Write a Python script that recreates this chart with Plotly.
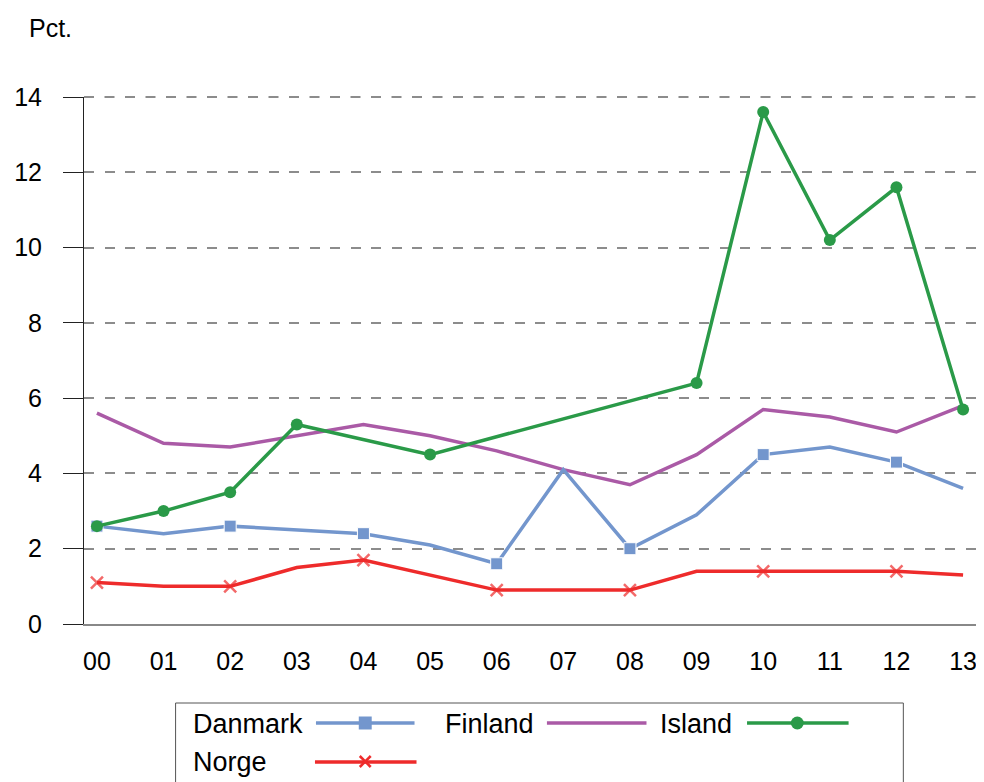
import plotly.graph_objects as go

years = ["00", "01", "02", "03", "04", "05", "06", "07", "08", "09", "10", "11", "12", "13"]
danmark = [2.6, 2.4, 2.6, 2.5, 2.4, 2.1, 1.6, 4.1, 2.0, 2.9, 4.5, 4.7, 4.3, 3.6]
finland = [5.6, 4.8, 4.7, 5.0, 5.3, 5.0, 4.6, 4.1, 3.7, 4.5, 5.7, 5.5, 5.1, 5.8]
island = [2.6, 3.0, 3.5, 5.3, None, 4.5, None, None, None, 6.4, 13.6, 10.2, 11.6, 5.7]
norge = [1.1, 1.0, 1.0, 1.5, 1.7, 1.3, 0.9, 0.9, 0.9, 1.4, 1.4, 1.4, 1.4, 1.3]
y_ticks = [0, 2, 4, 6, 8, 10, 12, 14]

C_DK = "#7396CD"
C_FI = "#AA5AA6"
C_IS = "#2A9A48"
C_NO = "#EE2B2B"
GRID = "#8c8c8c"
DASH = "10px,10.5px"
FONT = "Liberation Sans, Arial, sans-serif"

OFF = 8  # page body margin
W, H = 984 - OFF, 782 - OFF
L, R, T, B = 80 - OFF, 6, 97 - OFF, 782 - 624
PW, PH = W - L - R, H - T - B

def px(x):
    return (x - OFF - L) / PW

def py(y):
    return (H - B - (y - OFF)) / PH

xs = list(range(len(years)))
even = [12 if i % 2 == 0 else 0 for i in xs]

fig = go.Figure()
fig.add_trace(go.Scatter(x=xs, y=finland, mode="lines", name="Finland",
                         line=dict(color=C_FI, width=3.5)))
fig.add_trace(go.Scatter(x=xs, y=danmark, mode="lines+markers", name="Danmark",
                         line=dict(color=C_DK, width=3.5),
                         marker=dict(symbol="square", size=even, color=C_DK, opacity=1)))
fig.add_trace(go.Scatter(x=xs, y=norge, mode="lines+markers", name="Norge",
                         line=dict(color=C_NO, width=3.5),
                         marker=dict(symbol="x-thin", size=even,
                                     line=dict(color=C_NO, width=2.5), color=C_NO)))
fig.add_trace(go.Scatter(x=xs, y=island, mode="lines+markers", name="Island",
                         connectgaps=True,
                         line=dict(color=C_IS, width=3.5),
                         marker=dict(symbol="circle", size=12, color=C_IS)))

shapes = []
ann = []
# top gridline (plotly omits the grid line at the range edge)
shapes.append(dict(type="line", xref="paper", yref="paper", x0=0, x1=1,
                   y0=1, y1=1, layer="below",
                   line=dict(color=GRID, width=2, dash=DASH)))
# legend box
shapes.append(dict(type="rect", xref="paper", yref="paper",
                   x0=px(172), x1=px(903), y0=py(800), y1=py(703),
                   line=dict(color="#555555", width=1), fillcolor="white", layer="above"))

def leg_line(x0, x1, y, color):
    shapes.append(dict(type="line", xref="paper", yref="paper",
                       x0=px(x0), x1=px(x1), y0=py(y), y1=py(y),
                       line=dict(color=color, width=3.5), layer="above"))

def leg_text(x, y, text):
    ann.append(dict(x=px(x), y=py(y), xref="paper", yref="paper", text=text,
                    showarrow=False, xanchor="left", yanchor="middle",
                    xshift=-3, font=dict(family=FONT, size=27, color="black")))

leg_text(190, 724, "Danmark")
leg_line(313, 412, 723, C_DK)
shapes.append(dict(type="rect", xref="paper", yref="paper",
                   x0=px(356), x1=px(369), y0=py(729.5), y1=py(716.5),
                   line=dict(width=0), fillcolor=C_DK, layer="above"))
leg_text(444, 724, "Finland")
leg_line(545, 645, 723, C_FI)
leg_text(660, 724, "Island")
leg_line(746, 848, 723, C_IS)
shapes.append(dict(type="circle", xref="paper", yref="paper",
                   x0=px(790), x1=px(803), y0=py(729.5), y1=py(716.5),
                   line=dict(width=0), fillcolor=C_IS, layer="above"))
leg_text(190, 762, "Norge")
leg_line(312, 414, 762, C_NO)
for (a, b, c, d) in [(357, 756, 368, 767), (357, 767, 368, 756)]:
    shapes.append(dict(type="line", xref="paper", yref="paper",
                       x0=px(a), y0=py(b), x1=px(c), y1=py(d),
                       line=dict(color=C_NO, width=2.5), layer="above"))

ann.append(dict(x=px(25), y=py(28), xref="paper", yref="paper", text="Pct.",
                showarrow=False, xanchor="left", yanchor="middle",
                xshift=-2, font=dict(family=FONT, size=25, color="black")))

fig.update_layout(
    width=W, height=H,
    margin=dict(l=L, r=R, t=T, b=B, pad=0),
    paper_bgcolor="white", plot_bgcolor="white",
    showlegend=False,
    font=dict(family=FONT, size=25, color="black"),
    shapes=shapes, annotations=ann,
    xaxis=dict(range=[-0.194, 13.224], tickmode="array", tickvals=xs, ticktext=years,
               showgrid=False, zeroline=False, showline=True, linecolor="#888888",
               linewidth=2, ticks="", ticklabelstandoff=14,
               tickfont=dict(family=FONT, size=25, color="black")),
    yaxis=dict(range=[0, 14], tickmode="array", tickvals=y_ticks,
               showgrid=True, gridcolor=GRID, gridwidth=2, griddash=DASH,
               zeroline=False, showline=True, linecolor="#222222", linewidth=1,
               ticks="outside", ticklen=20, tickcolor="#222222", tickwidth=1,
               ticklabelstandoff=16,
               tickfont=dict(family=FONT, size=25, color="black")),
)

fig.write_html("out.html")
